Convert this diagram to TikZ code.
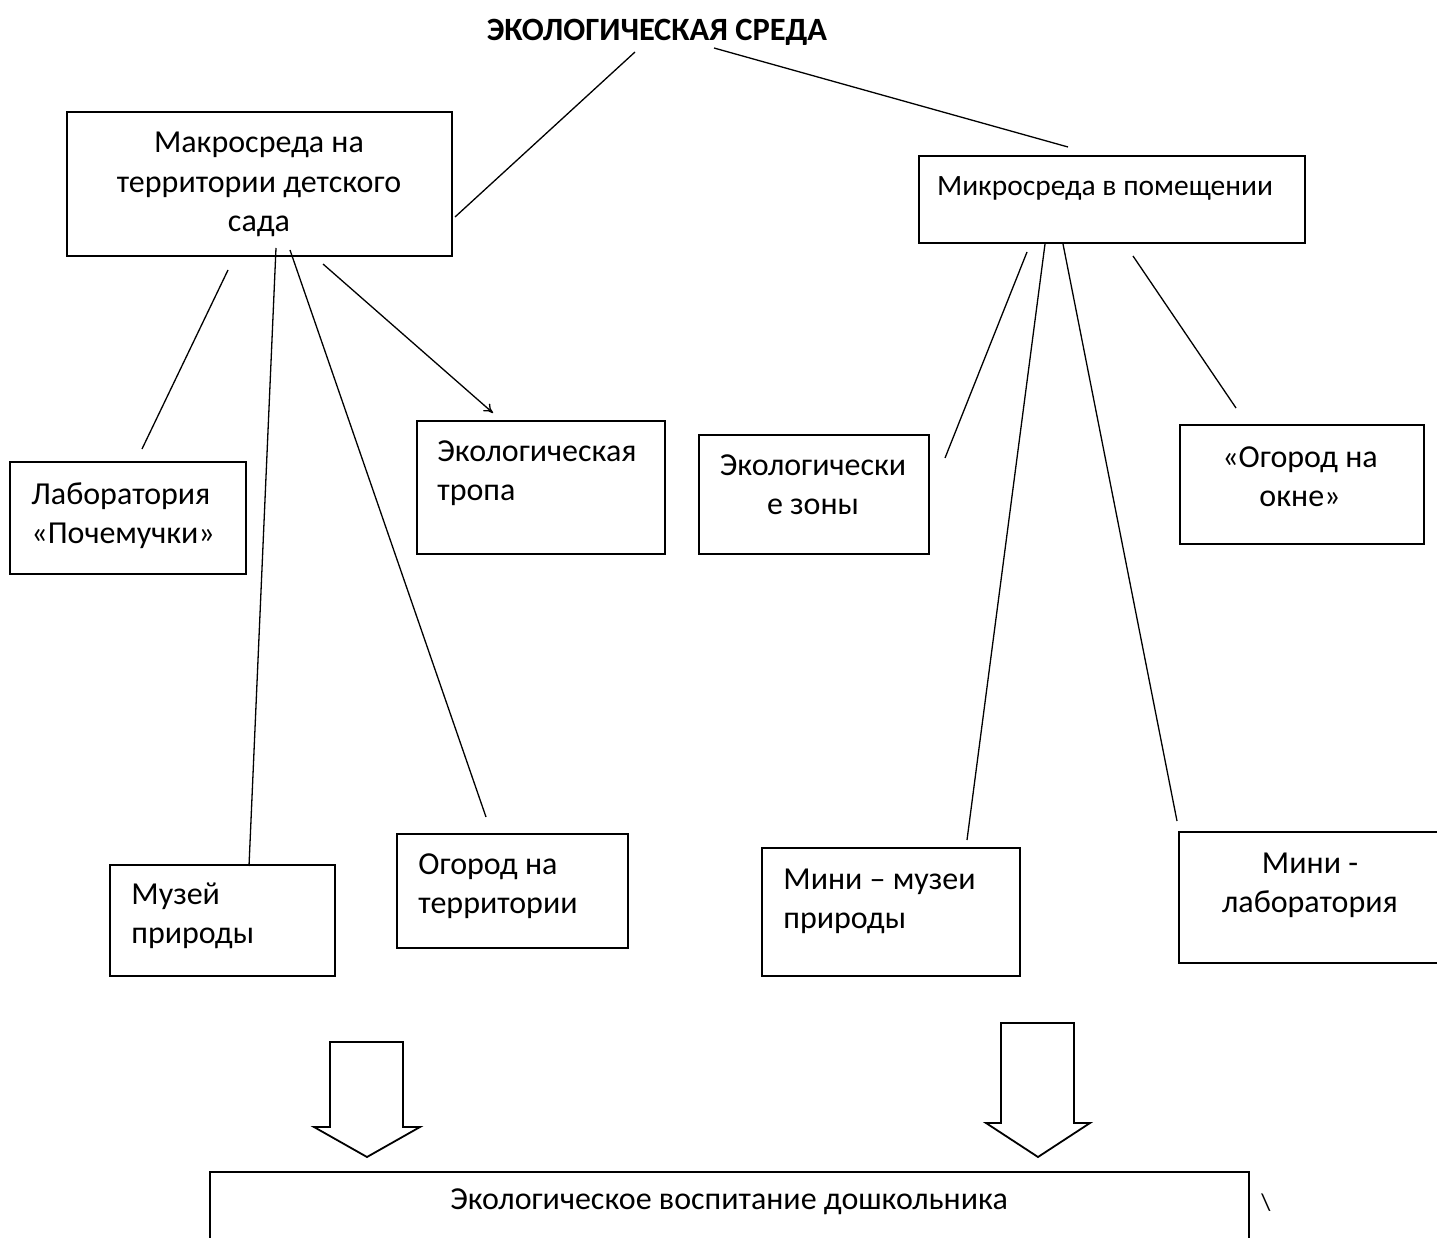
\documentclass[tikz,border=0pt]{standalone}
\usepackage{fontspec}
\setmainfont{Carlito}
\usetikzlibrary{arrows.meta}

\begin{document}
\begin{tikzpicture}[x=1pt,y=-1pt,thick]
    % `box' is used for the framed blocks (empty, the text sits on top).
    % `txt' is used for the texts inside the blocks, placed by the last baseline.
    % `link' is used for the thin lines between the blocks.
    % `hollow' is used for the two big white arrows.
    \tikzstyle{box} = [draw,line width=1.8pt,anchor=north west,inner sep=0pt]
    \tikzstyle{txt} = [inner sep=0pt,align=left,font=\fontsize{32}{38.5}\selectfont]
    \tikzstyle{link} = [line width=1.3pt]
    \tikzstyle{hollow} = [draw,line width=1.8pt,line join=miter,fill=white]
    \clip (0,0) rectangle (1437,1238);
    %
    \node[txt,anchor=base,font=\bfseries\fontsize{32.5}{38.5}\selectfont] (title) at (657,41) {ЭКОЛОГИЧЕСКАЯ СРЕДА};
    % upper level
    \node[box,minimum width=385pt,minimum height=144pt] (macro) at (66,111) {};
    \node[txt,anchor=base,align=center,font=\fontsize{32}{39.5}\selectfont] (macrotext) at (259,232) {Макросреда на\\территории детского\\сада};
    \node[box,minimum width=386pt,minimum height=87pt] (micro) at (918,155) {};
    \node[txt,anchor=base,font=\fontsize{29.5}{38.5}\selectfont] (microtext) at (1105,196) {Микросреда в помещении};
    % middle level
    \node[box,minimum width=236pt,minimum height=112pt] (lab) at (9,461) {};
    \node[txt,anchor=base west] (labtext) at (31,543) {Лаборатория\\«Почемучки»};
    \node[box,minimum width=248pt,minimum height=133pt] (path) at (416,420) {};
    \node[txt,anchor=base west] (pathtext) at (437,500) {Экологическая\\тропа};
    \node[box,minimum width=230pt,minimum height=119pt] (zones) at (698,434) {};
    \node[txt,anchor=base,align=center] (zonestext) at (813,514) {Экологически\\е зоны};
    \node[box,minimum width=244pt,minimum height=119pt] (window) at (1179,424) {};
    \node[txt,anchor=base,align=center] (windowtext) at (1300,506) {«Огород на\\окне»};
    % lower level
    \node[box,minimum width=225pt,minimum height=111pt] (museum) at (109,864) {};
    \node[txt,anchor=base west] (museumtext) at (131,943) {Музей\\природы};
    \node[box,minimum width=231pt,minimum height=114pt] (garden) at (396,833) {};
    \node[txt,anchor=base west] (gardentext) at (418,913) {Огород на\\территории};
    \node[box,minimum width=258pt,minimum height=128pt] (minimus) at (761,847) {};
    \node[txt,anchor=base west] (minimustext) at (783,928) {Мини – музеи\\природы};
    \node[box,minimum width=280pt,minimum height=131pt] (minilab) at (1178,831) {};
    \node[txt,anchor=base,align=center] (minilabtext) at (1310,912) {Мини -\\лаборатория};
    % bottom block
    \node[box,minimum width=1039pt,minimum height=120pt] (upbr) at (209,1171) {};
    \node[txt,anchor=base] (upbrtext) at (729,1209) {Экологическое воспитание дошкольника};
    \node[txt,anchor=base,font=\fontsize{24}{30}\selectfont] (slash) at (1266,1210) {\textbackslash};
    %
    % line ends
    \coordinate (title-l) at (635,52);   \coordinate (macro-r) at (455,217);
    \coordinate (title-r) at (714,48);   \coordinate (micro-t) at (1068,147);
    \coordinate (macro-1) at (228,270);  \coordinate (lab-t) at (142,449);
    \coordinate (macro-2) at (276,248);  \coordinate (museum-t) at (249,866);
    \coordinate (macro-3) at (290,250);  \coordinate (garden-t) at (486,817);
    \coordinate (macro-4) at (323,264);  \coordinate (path-t) at (493,413);
    \coordinate (micro-1) at (1027,252); \coordinate (zones-r) at (945,458);
    \coordinate (micro-2) at (1045,244); \coordinate (minimus-t) at (967,840);
    \coordinate (micro-3) at (1063,244); \coordinate (minilab-t) at (1177,821);
    \coordinate (micro-4) at (1133,256); \coordinate (window-t) at (1236,408);
    %
    \draw[link] (title-l) -- (macro-r)  (title-r) -- (micro-t);
    \draw[link] (macro-1) -- (lab-t)  (macro-2) -- (museum-t)  (macro-3) -- (garden-t);
    \draw[link,-{To[length=9pt,width=10pt]}] (macro-4) -- (path-t);
    \draw[link] (micro-1) -- (zones-r)  (micro-2) -- (minimus-t)
                (micro-3) -- (minilab-t)  (micro-4) -- (window-t);
    %
    % big arrows down to the bottom block
    \draw[hollow] (330,1042) -- (403,1042) -- (403,1127) -- (420,1127) -- (367,1157)
                  -- (314,1127) -- (330,1127) -- cycle;
    \draw[hollow] (1001,1023) -- (1074,1023) -- (1074,1123) -- (1090,1123) -- (1038,1157)
                  -- (986,1123) -- (1001,1123) -- cycle;
\end{tikzpicture}
\end{document}
